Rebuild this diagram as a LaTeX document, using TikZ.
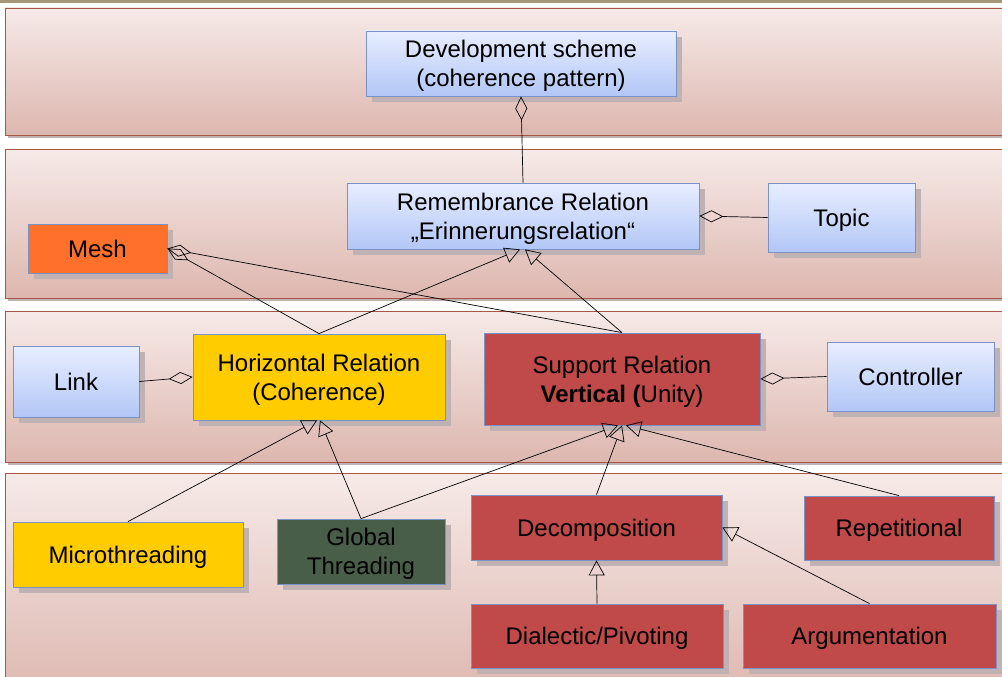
\documentclass[tikz,border=0pt]{standalone}
\usepackage{fontspec}
\setmainfont{Liberation Sans}
\usetikzlibrary{arrows.meta, shadows}

\definecolor{bandtop}{RGB}{246,234,232}
\definecolor{bandbot}{RGB}{221,183,175}
\definecolor{bandline}{RGB}{165,88,72}
\definecolor{bluetop}{RGB}{232,238,255}
\definecolor{bluebot}{RGB}{178,198,246}
\definecolor{boxline}{RGB}{122,146,198}
\definecolor{relyellow}{RGB}{255,204,0}
\definecolor{relred}{RGB}{192,73,73}
\definecolor{meshorange}{RGB}{255,113,42}
\definecolor{globalgreen}{RGB}{72,94,72}
\definecolor{shadowgray}{RGB}{192,178,178}
\definecolor{topstrip}{RGB}{166,152,118}

\begin{document}
\begin{tikzpicture}[x=1pt,y=-1pt,
  band/.style={draw=bandline, line width=0.8pt, top color=bandtop, bottom color=bandbot,
    drop shadow={shadow xshift=3pt, shadow yshift=-3pt, fill=shadowgray, opacity=1}},
  box/.style={draw=boxline, line width=0.8pt, align=center, inner sep=0pt, text depth=0pt,
    font=\fontsize{24}{29}\selectfont,
    drop shadow={shadow xshift=6pt, shadow yshift=-6pt, fill=shadowgray, opacity=1}},
  bluebox/.style={box, top color=bluetop, bottom color=bluebot},
  yellowbox/.style={box, fill=relyellow},
  redbox/.style={box, fill=relred},
  gen/.style={-{Triangle[open,length=15pt,width=16pt]}, line width=0.7pt},
  agg/.style={{Diamond[open,length=24pt,width=12pt]}-, line width=0.7pt}]
\useasboundingbox (0,0) rectangle (1002,677);
\clip (0,0) rectangle (1002,677);
\fill[white] (0,0) rectangle (1002,677);
\fill[topstrip] (0,0) rectangle (1002,3.5);

% Layers
\foreach \top/\bot in {8/135, 149/298, 311/462, 473/700} {
    \path[band] (5,\top) rectangle (1015,\bot);
}

% Top layer
\node[bluebox, minimum width=310pt, minimum height=65pt] (dev) at (521,63.5)
    {Development scheme\\(coherence pattern)};

% Second layer
\node[bluebox, minimum width=352pt, minimum height=66pt] (remem) at (523,216)
    {Remembrance Relation\\„Erinnerungsrelation“};
\node[bluebox, minimum width=147pt, minimum height=69pt] (topic) at (841.5,217.5) {Topic};
\node[box, fill=meshorange, minimum width=139pt, minimum height=49pt] (mesh) at (97.5,248.5) {Mesh};

% Third layer
\node[bluebox, minimum width=126pt, minimum height=71pt] (link) at (76,381.5) {Link};
\node[yellowbox, minimum width=252pt, minimum height=86pt] (horiz) at (319,377)
    {Horizontal Relation\\(Coherence)};
\node[redbox, minimum width=276pt, minimum height=92pt] (support) at (622,379)
    {Support Relation\\\textbf{Vertical (}Unity)};
\node[bluebox, minimum width=167pt, minimum height=69pt] (ctrl) at (910.5,376.5) {Controller};

% Bottom layer
\node[yellowbox, minimum width=230pt, minimum height=65pt] (micro) at (128,554.5) {Microthreading};
\node[box, fill=globalgreen, minimum width=168pt, minimum height=65pt] (global) at (361,551.5)
    {Global\\Threading};
\node[redbox, minimum width=251pt, minimum height=65pt] (decomp) at (596.5,527.5) {Decomposition};
\node[redbox, minimum width=190pt, minimum height=64pt] (repet) at (899,528) {Repetitional};
\node[redbox, minimum width=252pt, minimum height=64pt] (dial) at (597,636) {Dialectic/Pivoting};
\node[redbox, minimum width=253pt, minimum height=64pt] (argu) at (869.5,636) {Argumentation};

% Aggregations
\draw[agg] (dev.south) -- (remem.north);
\draw[agg] (remem.east) -- (topic.west);
\draw[agg] (mesh.east) -- (horiz.north);
\draw[agg] (mesh.east) -- (support.north);
\draw[agg] (horiz.west) -- (link.east);
\draw[agg] (support.east) -- (ctrl.west);

% Generalizations
\draw[gen] (horiz.north) -- ([xshift=-3pt]remem.south);
\draw[gen] (support.north) -- ([xshift=2pt]remem.south);
\draw[gen] (micro.north) -- ([xshift=-2pt]horiz.south);
\draw[gen] (global.north) -- ([xshift=1pt]horiz.south);
\draw[gen] (global.north) -- ([xshift=-4pt]support.south);
\draw[gen] (decomp.north) -- (support.south);
\draw[gen] (repet.north) -- ([xshift=4pt]support.south);
\draw[gen] (dial.north) -- (decomp.south);
\draw[gen] (argu.north) -- (decomp.east);
\end{tikzpicture}
\end{document}
